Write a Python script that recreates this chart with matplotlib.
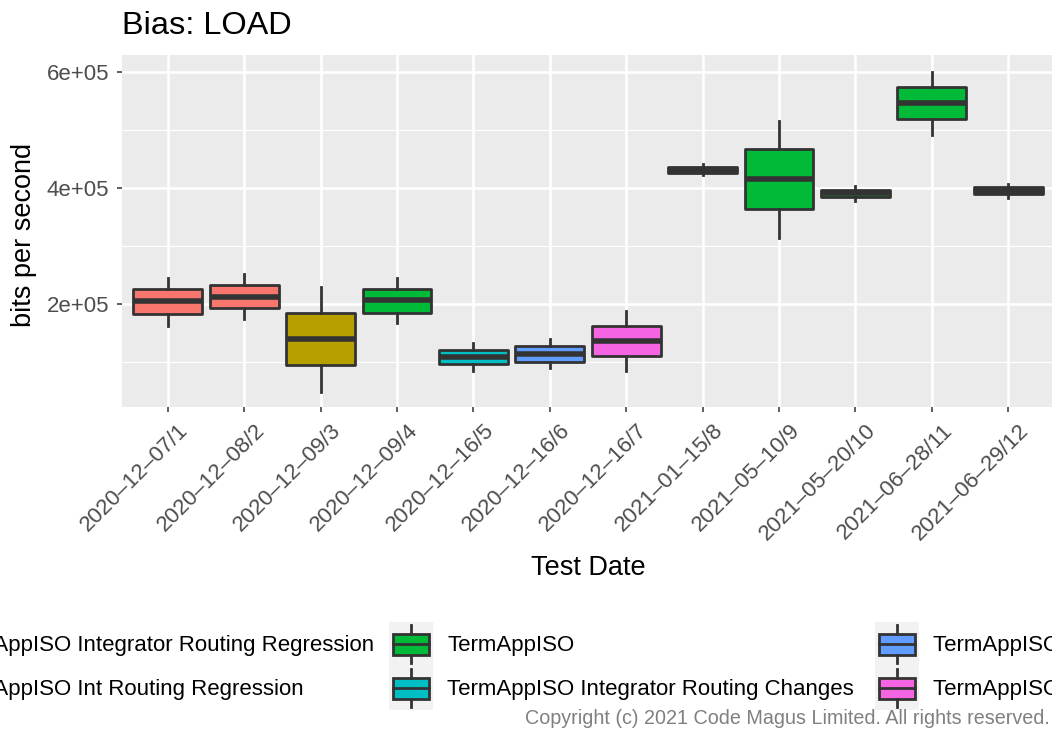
"""
Bias: LOAD — bits per second per test date, boxplot in a ggplot-like grey theme.
Writes out.png (1052x730).
"""
import matplotlib

matplotlib.use("Agg")
import matplotlib.pyplot as plt
import matplotlib.transforms as mtransforms
from matplotlib.lines import Line2D
from matplotlib.patches import Rectangle

W, H, DPI = 1052, 730, 100
PANEL_BG = "#EBEBEB"
EDGE = "#333333"
TICK_TEXT = "#4D4D4D"
KEY_BG = "#F2F2F2"

TEST_DATES = [
    "2020–12–07/1", "2020–12–08/2", "2020–12–09/3", "2020–12–09/4",
    "2020–12–16/5", "2020–12–16/6", "2020–12–16/7", "2021–01–15/8",
    "2021–05–10/9", "2021–05–20/10", "2021–06–28/11", "2021–06–29/12",
]
# index into LEGEND_LABELS / LEGEND_COLORS for each box
GROUP = [0, 0, 1, 2, 3, 4, 5, 2, 2, 2, 2, 2]
WHISK_LO = [162600, 173600, 48800, 166700, 85000, 89100, 84500, 421900, 313300, 378100, 491400, 382300]
Q1 = [182800, 192600, 94000, 185000, 96600, 100500, 110400, 425800, 363300, 384800, 518500, 389300]
MEDIAN = [205200, 212100, 139100, 206900, 109100, 113800, 136200, 431300, 415000, 390900, 546000, 395000]
Q3 = [225400, 232800, 184000, 226400, 121200, 127600, 162600, 436800, 466700, 396900, 574700, 400900]
WHISK_HI = [245400, 251200, 228800, 245400, 132300, 139100, 187900, 440900, 516000, 403000, 600500, 406900]

Y_TICKS = [2e5, 4e5, 6e5]
Y_TICK_LABELS = ["2e+05", "4e+05", "6e+05"]
Y_MINOR = [1e5, 3e5, 5e5]
Y_LIM = (22400, 629300)

LEGEND_LABELS = [
    "TermAppISO Integrator Routing Regression",
    "TermAppISO Int Routing Regression",
    "TermAppISO",
    "TermAppISO Integrator Routing Changes",
    "TermAppISO Int Routing Changes",
    "TermAppISO Routing Changes",
]
LEGEND_COLORS = ["#F8766D", "#B79F00", "#00BA38", "#00BFC4", "#619CFF", "#F564E3"]

plt.rcParams["font.family"] = ["Liberation Sans", "DejaVu Sans"]


def fx(x):
    return x / W


def fy(y):
    return 1 - y / H


def draw_key(fig, x0, yc, color):
    fig.add_artist(Rectangle((fx(x0), fy(yc + 22)), 44 / W, 44 / H,
                             transform=fig.transFigure, facecolor=KEY_BG, edgecolor="none"))
    fig.add_artist(Rectangle((fx(x0 + 4), fy(yc + 10.5)), 36 / W, 21 / H,
                             transform=fig.transFigure, facecolor=color, edgecolor=EDGE,
                             linewidth=2.0))
    xm = fx(x0 + 22)
    for ya, yb in ((yc - 19, yc - 10.5), (yc + 10.5, yc + 19)):
        fig.add_artist(Line2D([xm, xm], [fy(ya), fy(yb)], transform=fig.transFigure,
                              color=EDGE, linewidth=2.0))
    fig.add_artist(Line2D([fx(x0 + 4), fx(x0 + 40)], [fy(yc), fy(yc)],
                          transform=fig.transFigure, color=EDGE, linewidth=2.0))


def main():
    fig = plt.figure(figsize=(W / DPI, H / DPI), dpi=DPI)
    ax = fig.add_axes([fx(122), fy(407), (1054 - 122) / W, (407 - 55) / H])
    ax.set_facecolor(PANEL_BG)
    for spine in ax.spines.values():
        spine.set_visible(False)

    positions = list(range(1, len(TEST_DATES) + 1))
    stats = [
        dict(whislo=lo, q1=a, med=m, q3=b, whishi=hi, fliers=[])
        for lo, a, m, b, hi in zip(WHISK_LO, Q1, MEDIAN, Q3, WHISK_HI)
    ]
    bp = ax.bxp(
        stats,
        positions=positions,
        widths=0.9,
        patch_artist=True,
        showcaps=False,
        showfliers=False,
        boxprops=dict(edgecolor=EDGE, linewidth=2.0, joinstyle="round"),
        medianprops=dict(color=EDGE, linewidth=4.0, solid_capstyle="butt"),
        whiskerprops=dict(color=EDGE, linewidth=2.0),
    )
    for patch, g in zip(bp["boxes"], GROUP):
        patch.set_facecolor(LEGEND_COLORS[g])

    ax.set_xlim(0.4, len(TEST_DATES) + 0.6)
    ax.set_ylim(*Y_LIM)
    ax.set_xticks(positions)
    ax.set_xticklabels(TEST_DATES, rotation=45, ha="right", va="top", rotation_mode="anchor")
    ax.set_yticks(Y_TICKS)
    ax.set_yticklabels(Y_TICK_LABELS)
    ax.set_yticks(Y_MINOR, minor=True)

    ax.set_axisbelow(True)
    ax.grid(True, which="major", color="white", linewidth=1.8)
    ax.grid(True, which="minor", axis="y", color="white", linewidth=0.9)
    ax.tick_params(which="major", length=3.6, width=1.1, color=EDGE,
                   labelsize=16, labelcolor=TICK_TEXT)
    ax.tick_params(which="minor", length=0)
    ax.tick_params(axis="x", pad=5.5)
    ax.tick_params(axis="y", pad=5.5)

    offset = mtransforms.ScaledTranslation(10 / DPI, 0, fig.dpi_scale_trans)
    for lab in ax.get_xticklabels():
        lab.set_transform(lab.get_transform() + offset)

    ax.set_title("Bias: LOAD", loc="left", fontsize=23.4, pad=15.1)
    ax.set_xlabel("Test Date", fontsize=19.5)
    ax.xaxis.label.set_va("baseline")
    ax.xaxis.set_label_coords(0.5, (407 - 575) / 352)
    ax.set_ylabel("bits per second", fontsize=19.5)
    ax.yaxis.label.set_va("center")
    ax.yaxis.set_label_coords((24 - 122) / 932, 0.49)

    # legend: 3 columns x 2 rows, clipped at both figure edges
    renderer = fig.canvas.get_renderer()
    key_y = [644, 688]
    text_y = [646, 690]
    t = fig.text(fx(374), fy(text_y[0]), LEGEND_LABELS[0], ha="right", va="center", fontsize=16)
    col1_text = t.get_window_extent(renderer).x0
    fig.text(col1_text / W, fy(text_y[1]), LEGEND_LABELS[1], ha="left", va="center", fontsize=16)
    key_x = [col1_text - 58, 389, 875]
    for i, (label, color) in enumerate(zip(LEGEND_LABELS, LEGEND_COLORS)):
        col, row = divmod(i, 2)
        draw_key(fig, key_x[col], key_y[row], color)
        if col > 0:
            fig.text(fx(key_x[col] + 58), fy(text_y[row]), label, ha="left", va="center", fontsize=16)

    fig.text(fx(1050), fy(724), "Copyright (c) 2021 Code Magus Limited. All rights reserved.",
             ha="right", va="baseline", fontsize=14.2, color="#808080")

    fig.savefig("out.png", dpi=DPI)
    plt.close(fig)


if __name__ == "__main__":
    main()
